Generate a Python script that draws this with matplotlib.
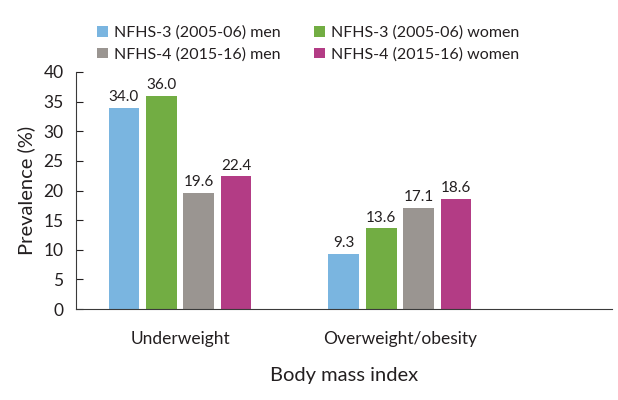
import numpy as np
import matplotlib.pyplot as plt

plt.rcParams['font.family'] = ['Lato', 'DejaVu Sans']

categories = ["Underweight", "Overweight/obesity"]
series = ["NFHS-3 (2005-06) men", "NFHS-3 (2005-06) women",
          "NFHS-4 (2015-16) men", "NFHS-4 (2015-16) women"]
values = [[34.0, 9.3], [36.0, 13.6], [19.6, 17.1], [22.4, 18.6]]
colors = ["#7AB5E0", "#72AD43", "#9A9591", "#B33C85"]
yticks = [0, 5, 10, 15, 20, 25, 30, 35, 40]

txt = "#231f20"
fig = plt.figure(figsize=(6.18, 4), dpi=100)
ax = fig.add_axes([0.123, 0.2275, 0.867, 0.5925])

x = np.arange(len(categories))
w = 0.14
pitch = 0.17
handles = []
for i in range(4):
    pos = x + (i - 1.5) * pitch
    b = ax.bar(pos, values[i], width=w, color=colors[i], label=series[i])
    handles.append(b)
    for p, v in zip(pos, values[i]):
        ax.text(p, v + 0.6, f"{v:.1f}", ha="center", va="bottom", fontsize=11, color=txt)

ax.set_xlim(-0.473, 1.964)
ax.set_ylim(0, 40)
ax.set_yticks(yticks)
ax.set_xticks(x)
ax.set_xticklabels(categories, fontsize=12.5, color=txt)
ax.tick_params(axis="x", length=0, pad=16)
ax.tick_params(axis="y", direction="in", length=5, labelsize=12.5, colors=txt, pad=9)
ax.spines["top"].set_visible(False)
ax.spines["right"].set_visible(False)
ax.spines["left"].set_color("#3a3a3a")
ax.spines["bottom"].set_color("#3a3a3a")
ax.set_ylabel("Prevalence (%)", fontsize=14.5, color=txt, labelpad=6)
ax.set_xlabel("Body mass index", fontsize=14.5, color=txt, labelpad=14)

# legend fills columns first, so reorder to get men/women side by side
order = [0, 2, 1, 3]
fig.legend(handles=[handles[k] for k in order], labels=[series[k] for k in order],
           loc="upper left", bbox_to_anchor=(0.134, 0.972), ncol=2,
           frameon=False, fontsize=11.5, handlelength=0.65, handleheight=0.65,
           handletextpad=0.4, columnspacing=2.1, labelspacing=0.45, labelcolor=txt)

fig.savefig("out.png", dpi=100)
